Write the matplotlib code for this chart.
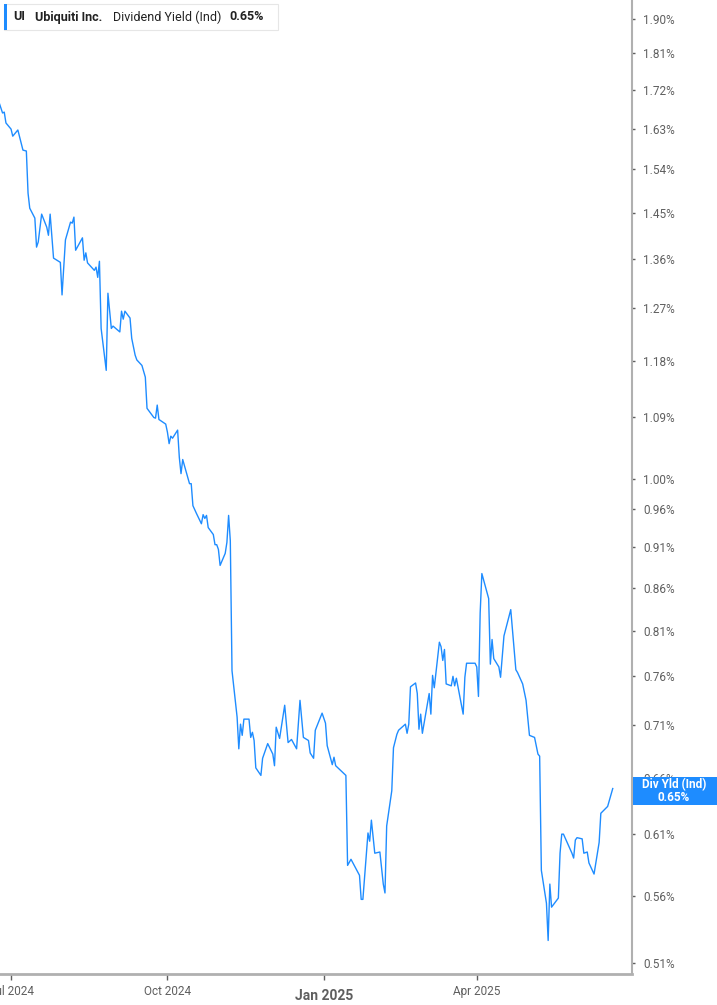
import matplotlib
matplotlib.use("Agg")
import matplotlib.pyplot as plt
from matplotlib.patches import Rectangle
from matplotlib.ticker import FixedLocator, NullLocator
import pandas as pd

plt.rcParams["font.family"] = ["Roboto", "DejaVu Sans"]

# Dividend yield (Ind), %
dates = [
    "2024-06-24", "2024-06-26", "2024-06-27", "2024-06-28", "2024-07-01", "2024-07-02",
    "2024-07-05", "2024-07-08", "2024-07-10", "2024-07-11", "2024-07-12", "2024-07-15",
    "2024-07-16", "2024-07-17", "2024-07-19", "2024-07-22", "2024-07-23", "2024-07-24",
    "2024-07-26", "2024-07-30", "2024-07-31", "2024-08-02", "2024-08-05", "2024-08-06",
    "2024-08-07", "2024-08-08", "2024-08-12", "2024-08-13", "2024-08-14", "2024-08-15",
    "2024-08-19", "2024-08-20", "2024-08-21", "2024-08-22", "2024-08-23", "2024-08-26",
    "2024-08-27", "2024-08-29", "2024-08-30", "2024-09-03", "2024-09-04", "2024-09-05",
    "2024-09-06", "2024-09-09", "2024-09-10", "2024-09-12", "2024-09-13", "2024-09-16",
    "2024-09-18", "2024-09-19", "2024-09-23", "2024-09-24", "2024-09-25", "2024-09-26",
    "2024-09-30", "2024-10-01", "2024-10-02", "2024-10-03", "2024-10-04", "2024-10-07",
    "2024-10-08", "2024-10-09", "2024-10-10", "2024-10-14", "2024-10-15", "2024-10-16",
    "2024-10-18", "2024-10-21", "2024-10-22", "2024-10-23", "2024-10-24", "2024-10-25",
    "2024-10-28", "2024-10-29", "2024-10-30", "2024-10-31", "2024-11-01", "2024-11-04",
    "2024-11-05", "2024-11-06", "2024-11-07", "2024-11-08", "2024-11-11", "2024-11-12",
    "2024-11-13", "2024-11-14", "2024-11-15", "2024-11-18", "2024-11-19", "2024-11-20",
    "2024-11-21", "2024-11-22", "2024-11-25", "2024-11-26", "2024-11-29", "2024-12-02",
    "2024-12-03", "2024-12-04", "2024-12-06", "2024-12-09", "2024-12-11", "2024-12-13",
    "2024-12-16", "2024-12-18", "2024-12-20", "2024-12-23", "2024-12-24", "2024-12-26",
    "2024-12-27", "2024-12-31", "2025-01-02", "2025-01-03", "2025-01-06", "2025-01-07",
    "2025-01-08", "2025-01-14", "2025-01-15", "2025-01-17", "2025-01-22", "2025-01-23",
    "2025-01-24", "2025-01-27", "2025-01-28", "2025-01-29", "2025-01-31", "2025-02-03",
    "2025-02-05", "2025-02-06", "2025-02-07", "2025-02-10", "2025-02-11", "2025-02-13",
    "2025-02-14", "2025-02-18", "2025-02-19", "2025-02-20", "2025-02-21", "2025-02-24",
    "2025-02-25", "2025-02-26", "2025-02-27", "2025-02-28", "2025-03-04", "2025-03-05",
    "2025-03-06", "2025-03-07", "2025-03-10", "2025-03-11", "2025-03-12", "2025-03-13",
    "2025-03-14", "2025-03-17", "2025-03-18", "2025-03-19", "2025-03-20", "2025-03-24",
    "2025-03-25", "2025-03-26", "2025-03-31", "2025-04-01", "2025-04-02", "2025-04-03",
    "2025-04-04", "2025-04-08", "2025-04-09", "2025-04-10", "2025-04-11", "2025-04-14",
    "2025-04-15", "2025-04-17", "2025-04-21", "2025-04-24", "2025-04-25", "2025-04-28",
    "2025-04-30", "2025-05-02", "2025-05-05", "2025-05-07", "2025-05-08", "2025-05-09",
    "2025-05-12", "2025-05-13", "2025-05-14", "2025-05-15", "2025-05-19", "2025-05-20",
    "2025-05-21", "2025-05-22", "2025-05-27", "2025-05-28", "2025-05-29", "2025-05-30",
    "2025-06-02", "2025-06-03", "2025-06-05", "2025-06-06", "2025-06-09", "2025-06-11",
    "2025-06-12", "2025-06-13", "2025-06-17", "2025-06-20",
]
yield_pct = [
    1.690, 1.666, 1.668, 1.643, 1.629, 1.613,
    1.627, 1.582, 1.580, 1.490, 1.459, 1.439,
    1.382, 1.392, 1.447, 1.421, 1.405, 1.447,
    1.361, 1.353, 1.293, 1.396, 1.431, 1.429,
    1.441, 1.376, 1.400, 1.357, 1.371, 1.352,
    1.338, 1.344, 1.325, 1.355, 1.234, 1.164,
    1.296, 1.234, 1.238, 1.228, 1.264, 1.250,
    1.264, 1.252, 1.217, 1.189, 1.181, 1.172,
    1.153, 1.104, 1.090, 1.089, 1.109, 1.087,
    1.080, 1.068, 1.051, 1.062, 1.059, 1.071,
    1.031, 1.008, 1.028, 0.994, 0.994, 0.964,
    0.954, 0.940, 0.952, 0.947, 0.951, 0.935,
    0.926, 0.913, 0.913, 0.907, 0.887, 0.902,
    0.916, 0.951, 0.918, 0.766, 0.718, 0.687,
    0.711, 0.700, 0.716, 0.716, 0.698, 0.703,
    0.695, 0.669, 0.662, 0.678, 0.692, 0.682,
    0.671, 0.708, 0.697, 0.730, 0.693, 0.696,
    0.687, 0.735, 0.698, 0.695, 0.683, 0.678,
    0.705, 0.722, 0.712, 0.690, 0.672, 0.679,
    0.671, 0.662, 0.584, 0.589, 0.576, 0.557,
    0.557, 0.611, 0.604, 0.622, 0.594, 0.595,
    0.569, 0.562, 0.617, 0.648, 0.688, 0.701,
    0.705, 0.711, 0.702, 0.711, 0.749, 0.753,
    0.742, 0.706, 0.721, 0.702, 0.742, 0.721,
    0.761, 0.748, 0.797, 0.792, 0.777, 0.789,
    0.752, 0.750, 0.760, 0.750, 0.758, 0.721,
    0.759, 0.774, 0.774, 0.770, 0.739, 0.830,
    0.877, 0.847, 0.773, 0.800, 0.779, 0.770,
    0.759, 0.804, 0.834, 0.767, 0.764, 0.752,
    0.735, 0.700, 0.698, 0.682, 0.680, 0.580,
    0.554, 0.526, 0.569, 0.551, 0.558, 0.594,
    0.610, 0.610, 0.594, 0.590, 0.605, 0.607,
    0.606, 0.594, 0.595, 0.586, 0.577, 0.594,
    0.603, 0.628, 0.634, 0.650,
]

y_ticks = [0.51, 0.56, 0.61, 0.66, 0.71, 0.76, 0.81, 0.86, 0.91, 0.96, 1.00,
           1.09, 1.18, 1.27, 1.36, 1.45, 1.54, 1.63, 1.72, 1.81, 1.90]
x_ticks = ["2024-07-01", "2024-10-01", "2025-01-01", "2025-04-01"]
x_tick_labels = ["Jul 2024", "Oct 2024", "Jan 2025", "Apr 2025"]

ticker_name = "UI"
company = "Ubiquiti Inc."
metric = "Dividend Yield (Ind)"
last_label = "0.65%"

LINE = "#1E8CFF"
GREY = "#5f5f5f"
AXIS = "#b0b0b0"
DARK = "#222222"

W, H = 717, 1005
fig = plt.figure(figsize=(W / 100, H / 100), dpi=100)
ax = fig.add_axes([0, 31 / H, 632 / W, 1 - 31 / H])

x = pd.to_datetime(dates)
ax.plot(x, yield_pct, color=LINE, lw=1.0)

ax.set_yscale("log")
ax.set_ylim(0.502, 1.95)
ax.set_xlim(pd.Timestamp("2024-06-24 12:00"), pd.Timestamp("2025-07-01 08:00"))

ax.yaxis.set_major_locator(FixedLocator(y_ticks))
ax.yaxis.set_minor_locator(NullLocator())
ax.set_yticklabels([f"{v:.2f}%" for v in y_ticks])
ax.yaxis.tick_right()
ax.tick_params(axis="y", which="major", direction="out", length=2, width=1,
               color=GREY, labelcolor=GREY, labelsize=8.5, pad=6)

ax.set_xticks(pd.to_datetime(x_ticks))
ax.set_xticklabels(x_tick_labels)
ax.tick_params(axis="x", direction="out", length=4, width=1, color=GREY,
               labelcolor=GREY, labelsize=8.5, pad=4)
for lbl in ax.get_xticklabels():
    if lbl.get_text() == "Jan 2025":
        lbl.set_fontweight("bold")
        lbl.set_fontsize(10)
        lbl.set_y(-0.004)

for side in ["top", "left"]:
    ax.spines[side].set_visible(False)
ax.spines["right"].set_color(AXIS)
ax.spines["right"].set_linewidth(1.5)
ax.spines["bottom"].set_color(AXIS)
ax.spines["bottom"].set_linewidth(2)


def px(xp, yp):
    return xp / W, 1 - yp / H


# header box
fig.patches.append(Rectangle(px(4, 30), 274 / W, 26 / H, transform=fig.transFigure,
                             facecolor="white", edgecolor="#e6e6e6", lw=0.8, zorder=5))
fig.patches.append(Rectangle(px(4, 30), 3 / W, 26 / H, transform=fig.transFigure,
                             facecolor=LINE, edgecolor="none", zorder=6))
head = dict(fontsize=9, color=DARK, va="center", zorder=8)
fig.text(*px(13, 17), ticker_name, fontweight="bold", **head)
fig.text(*px(35, 17), company, fontweight="bold", **head)
fig.text(*px(113, 17), metric, **head)
fig.text(*px(229, 17), last_label, fontweight="bold", **head)

# last value tag on the right axis
fig.patches.append(Rectangle(px(633, 805), 84 / W, 28 / H, transform=fig.transFigure,
                             facecolor=LINE, edgecolor="none", zorder=6))
tag = dict(fontsize=8.5, fontweight="bold", color="white", ha="center", va="center", zorder=8)
fig.text(*px(674, 785), "Div Yld (Ind)", **tag)
fig.text(*px(674, 797), last_label, **tag)

fig.savefig("out.png", dpi=100)
